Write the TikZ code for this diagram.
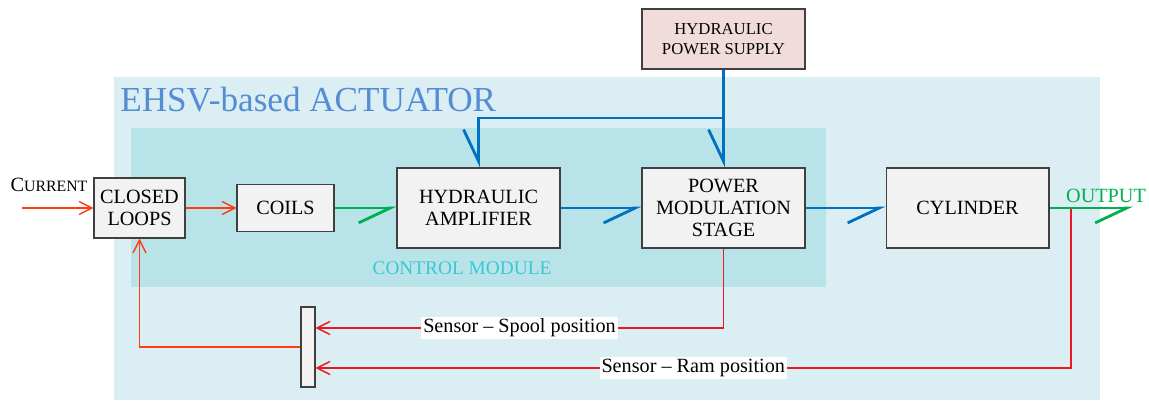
\documentclass[tikz,border=0pt]{standalone}
\usepackage{fontspec}
\setmainfont{Liberation Serif}
\usetikzlibrary{arrows.meta}
\definecolor{actbg}{RGB}{218,238,243}
\definecolor{ctrlbg}{RGB}{183,227,233}
\definecolor{ehsvblue}{RGB}{84,141,212}
\definecolor{ctrlcyan}{RGB}{60,200,210}
\definecolor{boxfill}{RGB}{242,242,242}
\definecolor{boxline}{RGB}{64,64,64}
\definecolor{hpsfill}{RGB}{242,220,219}
\definecolor{flowgreen}{RGB}{0,176,80}
\definecolor{flowblue}{RGB}{0,112,192}
\definecolor{curred}{RGB}{255,60,20}
\definecolor{senred}{RGB}{235,25,30}

\begin{document}
\begin{tikzpicture}[x=0.02cm, y=-0.02cm,
	blk/.style={draw=boxline, fill=boxfill, line width=0.6pt, align=center, inner sep=0pt, font=\fontsize{11.5}{12.7}\selectfont},
	sig/.style={line width=0.8pt, -{Straight Barb[length=7.4pt, width=7.5pt]}},
	flow/.style={line width=1.6pt, -{Straight Barb[harpoon, swap, length=18pt, width=17pt]}},
	lbl/.style={fill=white, inner sep=1pt, text=black, font=\fontsize{11.5}{12.7}\selectfont}]
	\useasboundingbox (0,0) rectangle (1149,401);
	\fill[actbg] (114,77) rectangle (1100,400);
	\fill[ctrlbg] (131,128) rectangle (826,287);
	\node[anchor=base west, inner sep=0pt, text=ehsvblue, font=\fontsize{20}{23}\selectfont] (title) at (120,112) {EHSV-based ACTUATOR};
	\node[text=ctrlcyan, font=\fontsize{11}{13}\selectfont] (ctrl) at (462,268) {CONTROL MODULE};
	\node[blk, minimum width=1.82cm, minimum height=1.2cm] (cl) at (139.5,208) {CLOSED\\LOOPS};
	\node[blk, minimum width=1.94cm, minimum height=0.94cm] (coils) at (285.5,208) {COILS};
	\node[blk, minimum width=3.26cm, minimum height=1.6cm] (ha) at (478.5,208) {HYDRAULIC\\AMPLIFIER};
	\node[blk, minimum width=3.26cm, minimum height=1.6cm] (pms) at (723.5,208) {POWER\\MODULATION\\STAGE};
	\node[blk, minimum width=3.26cm, minimum height=1.6cm] (cyl) at (967.5,208) {CYLINDER};
	\node[blk, fill=hpsfill, minimum width=3.26cm, minimum height=1.2cm, font=\fontsize{9.5}{11.8}\selectfont] (hps) at (723.5,39) {HYDRAULIC\\POWER SUPPLY};
	\node[blk, minimum width=0.28cm, minimum height=1.6cm] (sens) at (308,347) {};
	\node[anchor=base, inner sep=0pt, font=\fontsize{11.5}{12.7}\selectfont] (cur) at (49,192) {C\fontsize{9}{11}\selectfont URRENT};
	\node[text=flowgreen, inner sep=0pt, font=\fontsize{11.5}{12.7}\selectfont] (outlbl) at (1106,196) {OUTPUT};
	\coordinate (cin) at (22,208);
	\coordinate (out) at (1133,208);
	\coordinate (tap) at (1071,208);
	\coordinate (split) at (723.5,118);
	\draw[sig, curred] (cin) -- (cl);
	\draw[sig, curred] (cl) -- (coils);
	\draw[sig, curred] (sens.west) -| (cl.south);
	\draw[sig, senred] (pms.south) |- ([yshift=0.38cm]sens.east) node[lbl, pos=0.75] {Sensor -- Spool position};
	\draw[sig, senred] (tap) |- ([yshift=-0.42cm]sens.east) node[lbl, pos=0.75] {Sensor -- Ram position};
	\draw[flow, flowgreen] (coils) -- (ha);
	\draw[flow, flowblue] (ha) -- (pms);
	\draw[flow, flowblue] (pms) -- (cyl);
	\draw[flow, flowgreen] (cyl) -- (out);
	\draw[flow, flowblue] (hps) -- (pms);
	\draw[flow, flowblue] (split) -| (ha.north);
\end{tikzpicture}
\end{document}
